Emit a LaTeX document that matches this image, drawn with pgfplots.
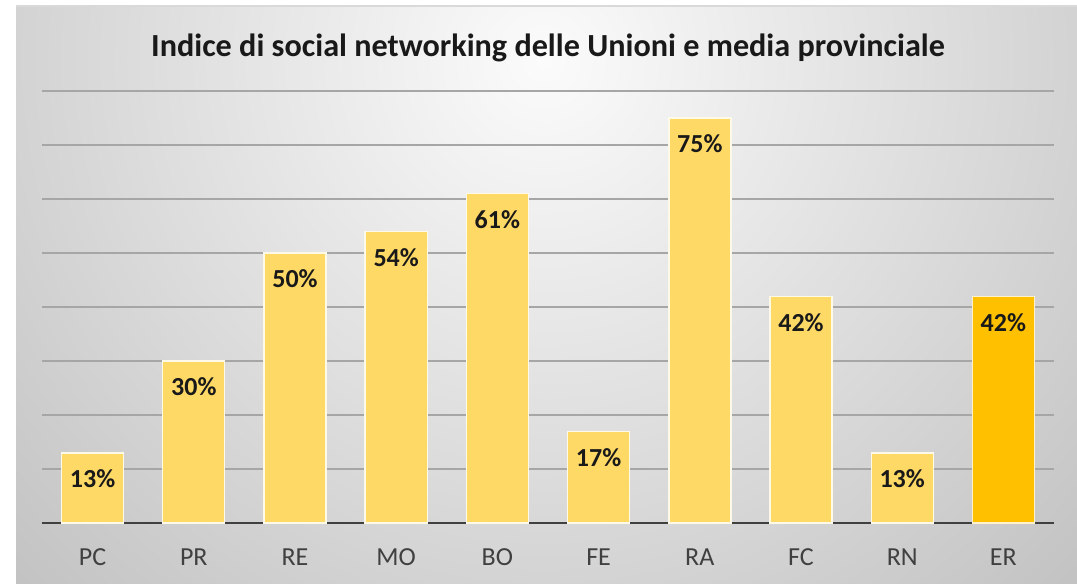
\documentclass[border=0pt]{standalone}
\usepackage{pgfplots}
\pgfplotsset{compat=1.18}
\usepackage{fontspec}
\setmainfont{Carlito}

\definecolor{barlight}{HTML}{FFD966}
\definecolor{bardark}{HTML}{FFC000}
\definecolor{gridgray}{HTML}{A6A6A6}
\definecolor{basegray}{HTML}{404040}

\begin{document}
\begin{tikzpicture}
\path[use as bounding box] (0,0) rectangle (538.5pt,292pt);

% chart area background
\begin{scope}
  \clip (8pt,0pt) rectangle (538.5pt,289pt);
  \shade[inner color=white!97!gray, outer color=black!42] (272pt,262pt) circle (680pt);
\end{scope}
\draw[black!15, line width=0.6pt] (8pt,289pt) -- (538.5pt,289pt);

\begin{axis}[
    at={(21pt,30.5pt)}, anchor=south west,
    scale only axis,
    width=506pt, height=216pt,
    ybar, bar width=31pt, bar shift=0pt,
    xmin=-0.5, xmax=9.5,
    ymin=0, ymax=80,
    xtick={0,...,9},
    xticklabels={PC,PR,RE,MO,BO,FE,RA,FC,RN,ER},
    ytick={10,20,...,80},
    yticklabels={},
    major tick length=0pt,
    ymajorgrids,
    grid style={gridgray, line width=0.7pt},
    axis x line*=bottom, axis y line*=left,
    x axis line style={basegray, line width=1.4pt, -},
    y axis line style={draw=none},
    /pgf/number format/assume math mode=true,
    every x tick label/.append style={anchor=center, yshift=-17pt, font=\fontsize{13}{15}\selectfont, text=basegray},
    title={Indice di social networking delle Unioni e media provinciale},
    title style={at={(0.5,1)}, anchor=center, yshift=15.5pt, font=\fontsize{16.1}{19}\selectfont\bfseries, text=black!90},
    nodes near coords={\pgfmathprintnumber[fixed,precision=0]{\pgfplotspointmeta}\%},
    every node near coord/.append style={anchor=center, yshift=-13pt, font=\fontsize{13}{15}\selectfont\bfseries, text=black!90},
]
\addplot[fill=barlight, draw=white!85!barlight, line width=0.7pt]
    coordinates {(0,13) (1,30) (2,50) (3,54) (4,61) (5,17) (6,75) (7,42) (8,13)};
\addplot[fill=bardark, draw=white!80!bardark, line width=0.7pt]
    coordinates {(9,42)};
\end{axis}
\end{tikzpicture}
\end{document}
